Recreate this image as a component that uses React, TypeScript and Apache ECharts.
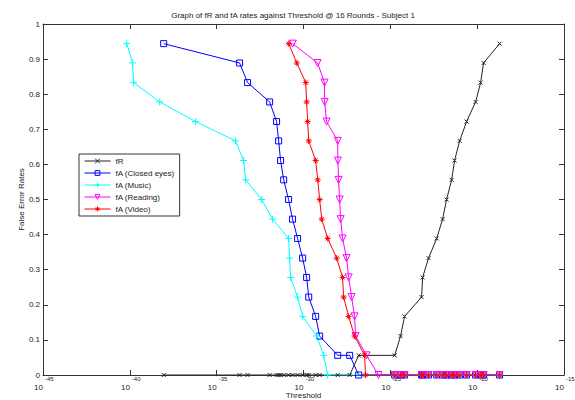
import React, { useEffect, useRef } from "react";
import * as echarts from "echarts";

// log10 of threshold values
const closedEyesT = [-38.05, -33.68, -33.22, -31.95, -31.55, -31.43, -31.32, -31.14, -30.86, -30.63, -30.34, -30.05, -29.82, -29.70, -29.30, -29.07, -28.03, -27.34, -26.82];
const closedEyesFA = [0.944, 0.889, 0.833, 0.778, 0.722, 0.667, 0.611, 0.556, 0.5, 0.444, 0.389, 0.333, 0.278, 0.222, 0.167, 0.111, 0.056, 0.056, 0];

const musicT = [-40.18, -39.84, -39.78, -38.28, -36.21, -33.91, -33.45, -33.33, -32.41, -31.78, -30.86, -30.80, -30.74, -30.34, -30.05, -29.24, -28.84, -28.61];
const musicFA = [0.944, 0.889, 0.833, 0.778, 0.722, 0.667, 0.611, 0.556, 0.5, 0.444, 0.389, 0.333, 0.278, 0.222, 0.167, 0.111, 0.056, 0];

const readingT = [-30.62, -29.19, -28.79, -28.78, -28.67, -28.03, -28.02, -27.98, -27.92, -27.86, -27.75, -27.52, -27.40, -27.23, -27.06, -27.00, -26.37, -25.68];
const readingFA = [0.944, 0.889, 0.833, 0.778, 0.722, 0.667, 0.611, 0.556, 0.5, 0.444, 0.389, 0.333, 0.278, 0.222, 0.167, 0.111, 0.056, 0];

const videoT = [-30.85, -30.39, -29.87, -29.82, -29.76, -29.70, -29.30, -29.18, -29.07, -28.95, -28.61, -28.09, -27.75, -27.69, -27.40, -27.06, -26.48, -26.43];
const videoFA = [0.944, 0.889, 0.833, 0.778, 0.722, 0.667, 0.611, 0.556, 0.5, 0.444, 0.389, 0.333, 0.278, 0.222, 0.167, 0.111, 0.056, 0];

const genuineT = [-24.75, -24.41, -24.18, -23.20, -23.14, -22.80, -22.33, -21.99, -21.76, -21.47, -21.30, -21.01, -20.61, -20.09, -19.80, -19.63, -18.71];
const fRAtClosedEyes = [0, 0, 0, 0, 0, 0, 0, 0, 0, 0, 0, 0, 0, 0, 0, 0, 0, 0, 0.056];
const fRAtGenuine = [0.056, 0.111, 0.167, 0.222, 0.278, 0.333, 0.389, 0.444, 0.5, 0.556, 0.611, 0.667, 0.722, 0.778, 0.833, 0.889, 0.944];
const fAAtGenuine = [0, 0, 0, 0, 0, 0, 0, 0, 0, 0, 0, 0, 0, 0, 0, 0, 0];

const xTicks = { min: -45, max: -15, interval: 5 };
const yTicks = { min: 0, max: 1, interval: 0.1 };

const TITLE = "Graph of fR and fA rates against Threshold @ 16 Rounds - Subject 1";
const FONT = "'Liberation Sans', Arial, sans-serif";

const zip = (ts: number[], vs: number[]) => ts.map((t, i) => [t, vs[i]]);

const X_PATH = "path://M0,0L10,10M10,0L0,10";
const PLUS_PATH = "path://M5,0L5,10M0,5L10,5";
const STAR_PATH = "path://M5,0L5,10M0,5L10,5M1.5,1.5L8.5,8.5M8.5,1.5L1.5,8.5";

export default function App() {
  const ref = useRef<HTMLDivElement>(null);
  useEffect(() => {
    const chart = echarts.init(ref.current!, null, { renderer: "svg" });
    const axisLine = { show: true, lineStyle: { color: "#333", width: 1 } };
    const tick = { show: true, inside: true, length: 5, lineStyle: { color: "#333" } };
    const lbl = { fontFamily: FONT, fontSize: 8, color: "#222" };
    const mkLine = (name: string, color: string, data: number[][], symbol: string, size: number, hollow: boolean, rotate = 0) => ({
      name,
      type: "line",
      data,
      xAxisIndex: 0,
      yAxisIndex: 0,
      symbol,
      symbolSize: size,
      symbolRotate: rotate,
      showSymbol: true,
      color,
      lineStyle: { color, width: 1 },
      itemStyle: { color: hollow ? "rgba(0,0,0,0)" : color, borderColor: color, borderWidth: 1 },
      emphasis: { disabled: true },
    });
    chart.setOption({
      animation: false,
      backgroundColor: "#fff",
      title: {
        text: TITLE,
        left: 288,
        top: 6,
        textAlign: "center",
        textStyle: { fontFamily: FONT, fontSize: 8, fontWeight: "normal", color: "#222" },
      },
      grid: { left: 43, right: 11, top: 24, bottom: 25, outerBoundsMode: "none", containLabel: false },
      legend: {
        orient: "vertical",
        left: 79,
        top: 154,
        itemWidth: 26,
        itemHeight: 6,
        itemGap: 4,
        padding: [3, 5, 3, 5],
        borderColor: "#333",
        borderWidth: 1,
        backgroundColor: "#fff",
        lineStyle: { width: 1 },
        itemStyle: { borderWidth: 1 },
        textStyle: { fontFamily: FONT, fontSize: 8, color: "#222" },
        data: ["fR", "fA (Closed eyes)", "fA (Music)", "fA (Reading)", "fA (Video)"],
      },
      xAxis: [
        {
          type: "value",
          position: "bottom",
          ...xTicks,
          axisLine,
          axisTick: tick,
          splitLine: { show: false },
          axisLabel: { ...lbl, formatter: () => "10", align: "right", margin: 8 },
          name: "Threshold",
          nameLocation: "middle",
          nameGap: 20,
          nameMoveOverlap: false,
          nameTextStyle: { fontFamily: FONT, fontSize: 8, color: "#222", verticalAlign: "middle", align: "center" },
        },
        {
          type: "value",
          position: "bottom",
          ...xTicks,
          axisLine: { show: false },
          axisTick: { show: false },
          splitLine: { show: false },
          axisLabel: { fontFamily: FONT, fontSize: 6, color: "#222", formatter: (v: number) => String(v), align: "left", margin: 1, padding: [0, 0, 0, 2] },
        },
        {
          type: "value",
          position: "top",
          ...xTicks,
          axisLine,
          axisTick: tick,
          splitLine: { show: false },
          axisLabel: { show: false },
        },
      ],
      yAxis: [
        {
          type: "value",
          position: "left",
          ...yTicks,
          axisLine,
          axisTick: tick,
          splitLine: { show: false },
          axisLabel: { ...lbl, margin: 3, formatter: (v: number) => String(Math.round(v * 10) / 10) },
          name: "False Error Rates",
          nameLocation: "middle",
          nameRotate: 90,
          nameGap: 22,
          nameMoveOverlap: false,
          nameTextStyle: { fontFamily: FONT, fontSize: 8, color: "#222", verticalAlign: "middle", align: "center" },
        },
        {
          type: "value",
          position: "right",
          ...yTicks,
          axisLine,
          axisTick: tick,
          splitLine: { show: false },
          axisLabel: { show: false },
        },
      ],
      series: [
        mkLine("fR", "#222", zip([...closedEyesT, ...genuineT], [...fRAtClosedEyes, ...fRAtGenuine]), X_PATH, 4, false),
        mkLine("fA (Closed eyes)", "#0000ff", zip([...closedEyesT, ...genuineT], [...closedEyesFA, ...fAAtGenuine]), "rect", 6, true),
        mkLine("fA (Music)", "#00ffff", zip([...musicT, ...genuineT], [...musicFA, ...fAAtGenuine]), PLUS_PATH, 7, false),
        mkLine("fA (Reading)", "#ff00ff", zip([...readingT, ...genuineT], [...readingFA, ...fAAtGenuine]), "triangle", 7, true, 180),
        mkLine("fA (Video)", "#ff0000", zip([...videoT, ...genuineT], [...videoFA, ...fAAtGenuine]), STAR_PATH, 6, false),
      ],
    });
    return () => chart.dispose();
  }, []);
  return <div ref={ref} style={{ position: "fixed", left: 0, top: 0, width: 575, height: 400, background: "#fff" }} />;
}
